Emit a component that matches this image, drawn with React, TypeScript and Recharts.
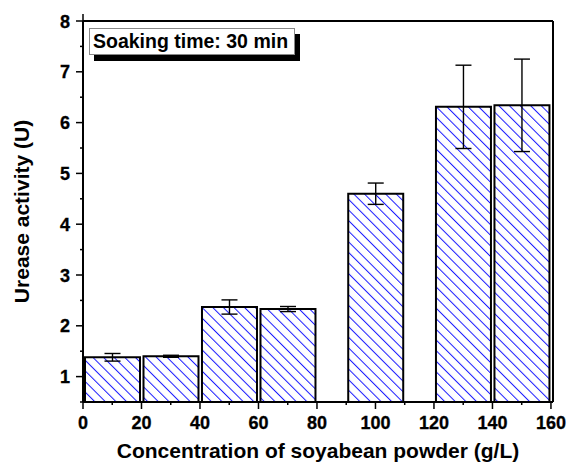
import React from 'react';
import {
  ComposedChart,
  Bar,
  ErrorBar,
  XAxis,
  YAxis,
  Label,
} from 'recharts';

// ---------------------------------------------------------------------------
// data
// ---------------------------------------------------------------------------

const concentrations = [10, 30, 50, 70, 100, 130, 150];
const activity = [1.38, 1.4, 2.37, 2.33, 4.6, 6.31, 6.34];
const activityErr = [0.075, 0.02, 0.14, 0.05, 0.21, 0.82, 0.91];

const xTicks = [0, 10, 20, 30, 40, 50, 60, 70, 80, 90, 100, 110, 120, 130, 140, 150, 160];
const yTicks = [0.5, 1, 1.5, 2, 2.5, 3, 3.5, 4, 4.5, 5, 5.5, 6, 6.5, 7, 7.5, 8];

const legendText = 'Soaking time: 30 min';
const xTitle = 'Concentration of soyabean powder (g/L)';
const yTitle = 'Urease activity (U)';

const data = concentrations.map((x, i) => ({
  x,
  value: activity[i],
  err: activityErr[i],
}));

// ---------------------------------------------------------------------------
// styles
// ---------------------------------------------------------------------------

const FONT = '"Liberation Sans", Arial, sans-serif';
const TICK_FONT = 18;
const TITLE_FONT = 21;

const isMajorX = (v: number) => v % 20 === 0;
const isMajorY = (v: number) => Number.isInteger(v);

// ---------------------------------------------------------------------------
// ticks
// ---------------------------------------------------------------------------

function BottomTick({ x, y, payload }: any) {
  const major = isMajorX(payload.value);
  return (
    <g>
      <line x1={x} x2={x} y1={y} y2={y + (major ? 7 : 3)} stroke="#000" strokeWidth={1.5} />
      {major && (
        <text
          x={x}
          y={y + 27}
          textAnchor="middle"
          fontSize={TICK_FONT}
          fontWeight="bold"
          fontFamily={FONT}
          fill="#000"
          stroke="#000"
          strokeWidth={0.3}
        >
          {payload.value}
        </text>
      )}
    </g>
  );
}

function TopTick({ x, y, payload }: any) {
  const major = isMajorX(payload.value);
  return <line x1={x} x2={x} y1={y} y2={y - (major ? 7 : 3)} stroke="#000" strokeWidth={1.5} />;
}

function LeftTick({ x, y, payload }: any) {
  const major = isMajorY(payload.value);
  return (
    <g>
      <line x1={x} x2={x - (major ? 7 : 3)} y1={y} y2={y} stroke="#000" strokeWidth={1.5} />
      {major && (
        <text
          x={x - 13}
          y={y + 6.5}
          textAnchor="end"
          fontSize={TICK_FONT}
          fontWeight="bold"
          fontFamily={FONT}
          fill="#000"
          stroke="#000"
          strokeWidth={0.3}
        >
          {payload.value}
        </text>
      )}
    </g>
  );
}

function RightTick({ x, y, payload }: any) {
  const major = isMajorY(payload.value);
  return <line x1={x} x2={x + (major ? 7 : 3)} y1={y} y2={y} stroke="#000" strokeWidth={1.5} />;
}

function XTitle({ viewBox }: any) {
  return (
    <text
      x={viewBox.x + viewBox.width / 2}
      y={viewBox.y + 56}
      textAnchor="middle"
      fontSize={TITLE_FONT}
      fontWeight="bold"
      fontFamily={FONT}
      fill="#000"
    >
      {xTitle}
    </text>
  );
}

function YTitle({ viewBox }: any) {
  const cx = 29;
  const cy = viewBox.y + viewBox.height / 2;
  return (
    <text
      x={cx}
      y={cy}
      transform={`rotate(-90, ${cx}, ${cy})`}
      textAnchor="middle"
      fontSize={TITLE_FONT}
      fontWeight="bold"
      fontFamily={FONT}
      fill="#000"
    >
      {yTitle}
    </text>
  );
}

// ---------------------------------------------------------------------------
// chart
// ---------------------------------------------------------------------------

export default function App() {
  return (
    <div style={{ position: 'absolute', left: 0, top: 0, width: 570, height: 464, background: '#fff' }}>
      <ComposedChart
        width={570}
        height={464}
        data={data}
        margin={{ top: 11, right: 7, bottom: 0, left: 0 }}
      >
        <defs>
          <pattern id="hatch" patternUnits="userSpaceOnUse" width={7.5} height={7.5} patternTransform="rotate(-45)">
            <rect width={7.5} height={7.5} fill="#fff" />
            <line x1={0} y1={0} x2={0} y2={7.5} stroke="#1a1aff" strokeWidth={2} />
          </pattern>
        </defs>

        <XAxis
          dataKey="x"
          type="number"
          domain={[0, 160.7]}
          ticks={xTicks}
          interval={0}
          height={62}
          tickSize={0}
          tickMargin={0}
          tickLine={false}
          tick={<BottomTick />}
          axisLine={{ stroke: '#000', strokeWidth: 2 }}
        >
          <Label content={<XTitle />} />
        </XAxis>
        <XAxis
          xAxisId="top"
          orientation="top"
          type="number"
          domain={[0, 160.7]}
          ticks={xTicks}
          interval={0}
          height={10}
          tickSize={0}
          tickMargin={0}
          tickLine={false}
          tick={<TopTick />}
          axisLine={{ stroke: '#000', strokeWidth: 2 }}
        />
        <YAxis
          type="number"
          domain={[0.5, 8]}
          ticks={yTicks}
          interval={0}
          width={83}
          tickSize={0}
          tickMargin={0}
          tickLine={false}
          tick={<LeftTick />}
          axisLine={{ stroke: '#000', strokeWidth: 2 }}
        >
          <Label content={<YTitle />} />
        </YAxis>
        <YAxis
          yAxisId="right"
          orientation="right"
          type="number"
          domain={[0.5, 8]}
          ticks={yTicks}
          interval={0}
          width={10}
          tickSize={0}
          tickMargin={0}
          tickLine={false}
          tick={<RightTick />}
          axisLine={{ stroke: '#000', strokeWidth: 2 }}
        />

        <Bar
          dataKey="value"
          barSize={55}
          fill="url(#hatch)"
          stroke="#000"
          strokeWidth={2}
          isAnimationActive={false}
        >
          <ErrorBar dataKey="err" width={8} stroke="#000" strokeWidth={1.4} />
        </Bar>
      </ComposedChart>

      <div
        style={{
          position: 'absolute',
          left: 89,
          top: 28,
          width: 201,
          height: 25,
          border: '1px solid #888',
          background: '#fff',
          boxShadow: '5px 6px 0 #000',
          fontFamily: FONT,
          fontWeight: 'bold',
          fontSize: 19.5,
          lineHeight: '25px',
          paddingLeft: 3,
          boxSizing: 'content-box',
          whiteSpace: 'nowrap',
        }}
      >
        {legendText}
      </div>
    </div>
  );
}
